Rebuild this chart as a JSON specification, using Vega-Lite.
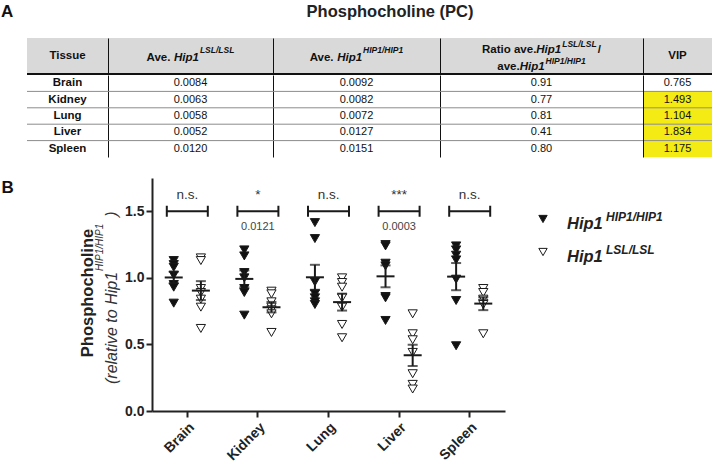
{
  "$schema": "https://vega.github.io/schema/vega-lite/v6.json",
  "padding": 0,
  "background": "white",
  "config": {
    "view": {"stroke": null},
    "font": "Liberation Sans",
    "axis": {"labelFont": "Liberation Sans", "titleFont": "Liberation Sans"},
    "text": {"font": "Liberation Sans"}
  },
  "datasets": {
    "table": [
      {"tissue": "Brain", "lsl": 0.0084, "hip1": 0.0092, "ratio": 0.91, "vip": 0.765},
      {"tissue": "Kidney", "lsl": 0.0063, "hip1": 0.0082, "ratio": 0.77, "vip": 1.493},
      {"tissue": "Lung", "lsl": 0.0058, "hip1": 0.0072, "ratio": 0.81, "vip": 1.104},
      {"tissue": "Liver", "lsl": 0.0052, "hip1": 0.0127, "ratio": 0.41, "vip": 1.834},
      {"tissue": "Spleen", "lsl": 0.0120, "hip1": 0.0151, "ratio": 0.80, "vip": 1.175}
    ],
    "annot": [
      {"tissue": "Brain", "sig": "n.s.", "p": ""},
      {"tissue": "Kidney", "sig": "*", "p": "0.0121"},
      {"tissue": "Lung", "sig": "n.s.", "p": ""},
      {"tissue": "Liver", "sig": "***", "p": "0.0003"},
      {"tissue": "Spleen", "sig": "n.s.", "p": ""}
    ],
    "legend": [
      {"g": "HIP1/HIP1", "name": "Hip1"},
      {"g": "LSL/LSL", "name": "Hip1"}
    ],
    "points": [
      {"tissue": "Brain", "genotype": "HIP1/HIP1", "value": 1.13},
      {"tissue": "Brain", "genotype": "HIP1/HIP1", "value": 1.10},
      {"tissue": "Brain", "genotype": "HIP1/HIP1", "value": 1.08},
      {"tissue": "Brain", "genotype": "HIP1/HIP1", "value": 1.02},
      {"tissue": "Brain", "genotype": "HIP1/HIP1", "value": 0.95},
      {"tissue": "Brain", "genotype": "HIP1/HIP1", "value": 0.93},
      {"tissue": "Brain", "genotype": "HIP1/HIP1", "value": 0.81},
      {"tissue": "Brain", "genotype": "LSL/LSL", "value": 1.15},
      {"tissue": "Brain", "genotype": "LSL/LSL", "value": 1.13},
      {"tissue": "Brain", "genotype": "LSL/LSL", "value": 0.92},
      {"tissue": "Brain", "genotype": "LSL/LSL", "value": 0.89},
      {"tissue": "Brain", "genotype": "LSL/LSL", "value": 0.84},
      {"tissue": "Brain", "genotype": "LSL/LSL", "value": 0.78},
      {"tissue": "Brain", "genotype": "LSL/LSL", "value": 0.62},
      {"tissue": "Kidney", "genotype": "HIP1/HIP1", "value": 1.21},
      {"tissue": "Kidney", "genotype": "HIP1/HIP1", "value": 1.165},
      {"tissue": "Kidney", "genotype": "HIP1/HIP1", "value": 1.04},
      {"tissue": "Kidney", "genotype": "HIP1/HIP1", "value": 1.00},
      {"tissue": "Kidney", "genotype": "HIP1/HIP1", "value": 0.92},
      {"tissue": "Kidney", "genotype": "HIP1/HIP1", "value": 0.89},
      {"tissue": "Kidney", "genotype": "HIP1/HIP1", "value": 0.72},
      {"tissue": "Kidney", "genotype": "LSL/LSL", "value": 0.90},
      {"tissue": "Kidney", "genotype": "LSL/LSL", "value": 0.88},
      {"tissue": "Kidney", "genotype": "LSL/LSL", "value": 0.82},
      {"tissue": "Kidney", "genotype": "LSL/LSL", "value": 0.78},
      {"tissue": "Kidney", "genotype": "LSL/LSL", "value": 0.76},
      {"tissue": "Kidney", "genotype": "LSL/LSL", "value": 0.73},
      {"tissue": "Kidney", "genotype": "LSL/LSL", "value": 0.59},
      {"tissue": "Lung", "genotype": "HIP1/HIP1", "value": 1.415},
      {"tissue": "Lung", "genotype": "HIP1/HIP1", "value": 1.295},
      {"tissue": "Lung", "genotype": "HIP1/HIP1", "value": 0.97},
      {"tissue": "Lung", "genotype": "HIP1/HIP1", "value": 0.88},
      {"tissue": "Lung", "genotype": "HIP1/HIP1", "value": 0.85},
      {"tissue": "Lung", "genotype": "HIP1/HIP1", "value": 0.82},
      {"tissue": "Lung", "genotype": "HIP1/HIP1", "value": 0.80},
      {"tissue": "Lung", "genotype": "LSL/LSL", "value": 1.00},
      {"tissue": "Lung", "genotype": "LSL/LSL", "value": 0.965},
      {"tissue": "Lung", "genotype": "LSL/LSL", "value": 0.93},
      {"tissue": "Lung", "genotype": "LSL/LSL", "value": 0.85},
      {"tissue": "Lung", "genotype": "LSL/LSL", "value": 0.78},
      {"tissue": "Lung", "genotype": "LSL/LSL", "value": 0.65},
      {"tissue": "Lung", "genotype": "LSL/LSL", "value": 0.55},
      {"tissue": "Liver", "genotype": "HIP1/HIP1", "value": 1.25},
      {"tissue": "Liver", "genotype": "HIP1/HIP1", "value": 1.24},
      {"tissue": "Liver", "genotype": "HIP1/HIP1", "value": 1.11},
      {"tissue": "Liver", "genotype": "HIP1/HIP1", "value": 1.09},
      {"tissue": "Liver", "genotype": "HIP1/HIP1", "value": 0.86},
      {"tissue": "Liver", "genotype": "HIP1/HIP1", "value": 0.85},
      {"tissue": "Liver", "genotype": "HIP1/HIP1", "value": 0.68},
      {"tissue": "Liver", "genotype": "LSL/LSL", "value": 0.73},
      {"tissue": "Liver", "genotype": "LSL/LSL", "value": 0.58},
      {"tissue": "Liver", "genotype": "LSL/LSL", "value": 0.535},
      {"tissue": "Liver", "genotype": "LSL/LSL", "value": 0.44},
      {"tissue": "Liver", "genotype": "LSL/LSL", "value": 0.28},
      {"tissue": "Liver", "genotype": "LSL/LSL", "value": 0.20},
      {"tissue": "Liver", "genotype": "LSL/LSL", "value": 0.165},
      {"tissue": "Spleen", "genotype": "HIP1/HIP1", "value": 1.24},
      {"tissue": "Spleen", "genotype": "HIP1/HIP1", "value": 1.21},
      {"tissue": "Spleen", "genotype": "HIP1/HIP1", "value": 1.17},
      {"tissue": "Spleen", "genotype": "HIP1/HIP1", "value": 1.135},
      {"tissue": "Spleen", "genotype": "HIP1/HIP1", "value": 0.99},
      {"tissue": "Spleen", "genotype": "HIP1/HIP1", "value": 0.83},
      {"tissue": "Spleen", "genotype": "HIP1/HIP1", "value": 0.49},
      {"tissue": "Spleen", "genotype": "LSL/LSL", "value": 0.92},
      {"tissue": "Spleen", "genotype": "LSL/LSL", "value": 0.89},
      {"tissue": "Spleen", "genotype": "LSL/LSL", "value": 0.84},
      {"tissue": "Spleen", "genotype": "LSL/LSL", "value": 0.81},
      {"tissue": "Spleen", "genotype": "LSL/LSL", "value": 0.80},
      {"tissue": "Spleen", "genotype": "LSL/LSL", "value": 0.58}
    ]
  },
  "spacing": 21,
  "vconcat": [
    {
      "spacing": 0,
      "vconcat": [
        {
          "width": 712, "height": 38,
          "view": {"fill": "white", "stroke": null},
          "data": {"values": [{"a": "A", "t": "Phosphocholine (PC)"}]},
          "layer": [
            {"mark": {"type": "text", "align": "left", "baseline": "middle", "dx": -355, "dy": -7, "fontSize": 17, "fontWeight": "bold", "color": "#111"}, "encoding": {"text": {"field": "a"}}},
            {"mark": {"type": "text", "align": "center", "baseline": "middle", "dx": 34, "dy": -7, "fontSize": 16.5, "fontWeight": "bold", "color": "#222"}, "encoding": {"text": {"field": "t"}}}
          ]
        },
        {
          "bounds": "flush",
          "spacing": 0,
          "hconcat": [
            {"width": 27, "height": 36, "data": {"values": [{}]}, "mark": "text", "encoding": {"text": {"value": ""}}},
            {
              "width": 81, "height": 36, "view": {"fill": "#d9d9d9", "stroke": null},
              "data": {"values": [{"row": "h"}]},
              "encoding": {"y": {"field": "row", "type": "nominal", "scale": {"type": "band", "paddingInner": 0, "paddingOuter": 0}, "axis": null}},
              "layer": [
                {"mark": {"type": "rule", "color": "#111", "strokeWidth": 2}, "encoding": {"y": {"field": "row", "type": "nominal", "bandPosition": 1, "axis": null}}},
                {"mark": {"type": "text", "fontSize": 11.5, "fontWeight": "bold", "baseline": "middle", "color": "#111"}, "encoding": {"text": {"value": "Tissue"}}}
              ]
            },
            {
              "width": 165, "height": 36, "view": {"fill": "#d9d9d9", "stroke": null},
              "data": {"values": [{"row": "h"}]},
              "encoding": {"y": {"field": "row", "type": "nominal", "scale": {"type": "band", "paddingInner": 0, "paddingOuter": 0}, "axis": {"title": null, "labels": false, "ticks": false, "domain": true, "domainColor": "#111", "domainWidth": 1, "grid": false}}},
              "layer": [
                {"mark": {"type": "rule", "color": "#111", "strokeWidth": 2}, "encoding": {"y": {"field": "row", "type": "nominal", "bandPosition": 1, "axis": {"title": null, "labels": false, "ticks": false, "domain": true, "domainColor": "#111", "domainWidth": 1, "grid": false}}}},
                {"mark": {"type": "text", "fontSize": 11.5, "fontWeight": "bold", "align": "left", "baseline": "alphabetic", "dx": -44, "dy": 4.5, "color": "#111"}, "encoding": {"text": {"value": "Ave."}}},
                {"mark": {"type": "text", "fontSize": 11.5, "fontWeight": "bold", "fontStyle": "italic", "align": "left", "baseline": "alphabetic", "dx": -16.5, "dy": 4.5, "color": "#111"}, "encoding": {"text": {"value": "Hip1"}}},
                {"mark": {"type": "text", "fontSize": 8.5, "fontWeight": "bold", "fontStyle": "italic", "align": "left", "baseline": "alphabetic", "dx": 9.4, "dy": -3, "color": "#111"}, "encoding": {"text": {"value": "LSL/LSL"}}}
              ]
            },
            {
              "width": 167, "height": 36, "view": {"fill": "#d9d9d9", "stroke": null},
              "data": {"values": [{"row": "h"}]},
              "encoding": {"y": {"field": "row", "type": "nominal", "scale": {"type": "band", "paddingInner": 0, "paddingOuter": 0}, "axis": {"title": null, "labels": false, "ticks": false, "domain": true, "domainColor": "#111", "domainWidth": 1, "grid": false}}},
              "layer": [
                {"mark": {"type": "rule", "color": "#111", "strokeWidth": 2}, "encoding": {"y": {"field": "row", "type": "nominal", "bandPosition": 1, "axis": {"title": null, "labels": false, "ticks": false, "domain": true, "domainColor": "#111", "domainWidth": 1, "grid": false}}}},
                {"mark": {"type": "text", "fontSize": 11.5, "fontWeight": "bold", "align": "left", "baseline": "alphabetic", "dx": -46.8, "dy": 4.5, "color": "#111"}, "encoding": {"text": {"value": "Ave."}}},
                {"mark": {"type": "text", "fontSize": 11.5, "fontWeight": "bold", "fontStyle": "italic", "align": "left", "baseline": "alphabetic", "dx": -19.3, "dy": 4.5, "color": "#111"}, "encoding": {"text": {"value": "Hip1"}}},
                {"mark": {"type": "text", "fontSize": 8.5, "fontWeight": "bold", "fontStyle": "italic", "align": "left", "baseline": "alphabetic", "dx": 6.6, "dy": -3, "color": "#111"}, "encoding": {"text": {"value": "HIP1/HIP1"}}}
              ]
            },
            {
              "width": 203, "height": 36, "view": {"fill": "#d9d9d9", "stroke": null},
              "data": {"values": [{"row": "h"}]},
              "encoding": {"y": {"field": "row", "type": "nominal", "scale": {"type": "band", "paddingInner": 0, "paddingOuter": 0}, "axis": {"title": null, "labels": false, "ticks": false, "domain": true, "domainColor": "#111", "domainWidth": 1, "grid": false}}},
              "layer": [
                {"mark": {"type": "rule", "color": "#111", "strokeWidth": 2}, "encoding": {"y": {"field": "row", "type": "nominal", "bandPosition": 1, "axis": {"title": null, "labels": false, "ticks": false, "domain": true, "domainColor": "#111", "domainWidth": 1, "grid": false}}}},
                {"mark": {"type": "text", "fontSize": 11.5, "fontWeight": "bold", "align": "left", "baseline": "alphabetic", "dx": -59.5, "dy": -3, "color": "#111"}, "encoding": {"text": {"value": "Ratio ave."}}},
                {"mark": {"type": "text", "fontSize": 11.5, "fontWeight": "bold", "fontStyle": "italic", "align": "left", "baseline": "alphabetic", "dx": -5.2, "dy": -3, "color": "#111"}, "encoding": {"text": {"value": "Hip1"}}},
                {"mark": {"type": "text", "fontSize": 8.5, "fontWeight": "bold", "fontStyle": "italic", "align": "left", "baseline": "alphabetic", "dx": 20.7, "dy": -9, "color": "#111"}, "encoding": {"text": {"value": "LSL/LSL"}}},
                {"mark": {"type": "text", "fontSize": 11.5, "fontWeight": "bold", "align": "left", "baseline": "alphabetic", "dx": 56.2, "dy": -3, "color": "#111"}, "encoding": {"text": {"value": "/"}}},
                {"mark": {"type": "text", "fontSize": 11.5, "fontWeight": "bold", "align": "left", "baseline": "alphabetic", "dx": -44.25, "dy": 14, "color": "#111"}, "encoding": {"text": {"value": "ave."}}},
                {"mark": {"type": "text", "fontSize": 11.5, "fontWeight": "bold", "fontStyle": "italic", "align": "left", "baseline": "alphabetic", "dx": -21.85, "dy": 14, "color": "#111"}, "encoding": {"text": {"value": "Hip1"}}},
                {"mark": {"type": "text", "fontSize": 8.5, "fontWeight": "bold", "fontStyle": "italic", "align": "left", "baseline": "alphabetic", "dx": 4.05, "dy": 8, "color": "#111"}, "encoding": {"text": {"value": "HIP1/HIP1"}}}
              ]
            },
            {
              "width": 69, "height": 36, "view": {"fill": "#d9d9d9", "stroke": null},
              "data": {"values": [{"row": "h"}]},
              "encoding": {"y": {"field": "row", "type": "nominal", "scale": {"type": "band", "paddingInner": 0, "paddingOuter": 0}, "axis": {"title": null, "labels": false, "ticks": false, "domain": true, "domainColor": "#111", "domainWidth": 1, "grid": false}}},
              "layer": [
                {"mark": {"type": "rule", "color": "#111", "strokeWidth": 2}, "encoding": {"y": {"field": "row", "type": "nominal", "bandPosition": 1, "axis": {"title": null, "labels": false, "ticks": false, "domain": true, "domainColor": "#111", "domainWidth": 1, "grid": false}}}},
                {"mark": {"type": "text", "fontSize": 11.5, "fontWeight": "bold", "baseline": "middle", "color": "#111"}, "encoding": {"text": {"value": "VIP"}}}
              ]
            }
          ]
        },
        {
          "bounds": "flush",
          "spacing": 0,
          "hconcat": [
            {"width": 27, "height": 82, "data": {"values": [{}]}, "mark": "text", "encoding": {"text": {"value": ""}}},
            {
              "width": 81, "height": 82,
              "data": {"name": "table"},
              "encoding": {"y": {"field": "tissue", "type": "nominal", "scale": {"type": "band", "domain": ["Brain", "Kidney", "Lung", "Liver", "Spleen"], "paddingInner": 0, "paddingOuter": 0}, "axis": null}},
              "layer": [
                {"transform": [{"filter": "datum.tissue !== 'Spleen'"}], "mark": {"type": "rule", "color": "#8c8c8c", "strokeWidth": 1}, "encoding": {"y": {"field": "tissue", "type": "nominal", "bandPosition": 1, "axis": null}}},
                {"mark": {"type": "text", "fontSize": 11.5, "fontWeight": "bold", "baseline": "middle", "color": "#111"}, "encoding": {"text": {"field": "tissue"}}}
              ]
            },
            {
              "width": 165, "height": 82,
              "data": {"name": "table"},
              "encoding": {"y": {"field": "tissue", "type": "nominal", "scale": {"type": "band", "domain": ["Brain", "Kidney", "Lung", "Liver", "Spleen"], "paddingInner": 0, "paddingOuter": 0}, "axis": {"title": null, "labels": false, "ticks": false, "domain": true, "domainColor": "#111", "domainWidth": 1, "grid": false}}},
              "layer": [
                {"transform": [{"filter": "datum.tissue !== 'Spleen'"}], "mark": {"type": "rule", "color": "#8c8c8c", "strokeWidth": 1}, "encoding": {"y": {"field": "tissue", "type": "nominal", "bandPosition": 1, "axis": {"title": null, "labels": false, "ticks": false, "domain": true, "domainColor": "#111", "domainWidth": 1, "grid": false}}}},
                {"mark": {"type": "text", "fontSize": 11, "baseline": "middle", "color": "#111"}, "encoding": {"text": {"field": "lsl", "format": ".4f"}}}
              ]
            },
            {
              "width": 167, "height": 82,
              "data": {"name": "table"},
              "encoding": {"y": {"field": "tissue", "type": "nominal", "scale": {"type": "band", "domain": ["Brain", "Kidney", "Lung", "Liver", "Spleen"], "paddingInner": 0, "paddingOuter": 0}, "axis": {"title": null, "labels": false, "ticks": false, "domain": true, "domainColor": "#111", "domainWidth": 1, "grid": false}}},
              "layer": [
                {"transform": [{"filter": "datum.tissue !== 'Spleen'"}], "mark": {"type": "rule", "color": "#8c8c8c", "strokeWidth": 1}, "encoding": {"y": {"field": "tissue", "type": "nominal", "bandPosition": 1, "axis": {"title": null, "labels": false, "ticks": false, "domain": true, "domainColor": "#111", "domainWidth": 1, "grid": false}}}},
                {"mark": {"type": "text", "fontSize": 11, "baseline": "middle", "color": "#111"}, "encoding": {"text": {"field": "hip1", "format": ".4f"}}}
              ]
            },
            {
              "width": 203, "height": 82,
              "data": {"name": "table"},
              "encoding": {"y": {"field": "tissue", "type": "nominal", "scale": {"type": "band", "domain": ["Brain", "Kidney", "Lung", "Liver", "Spleen"], "paddingInner": 0, "paddingOuter": 0}, "axis": {"title": null, "labels": false, "ticks": false, "domain": true, "domainColor": "#111", "domainWidth": 1, "grid": false}}},
              "layer": [
                {"transform": [{"filter": "datum.tissue !== 'Spleen'"}], "mark": {"type": "rule", "color": "#8c8c8c", "strokeWidth": 1}, "encoding": {"y": {"field": "tissue", "type": "nominal", "bandPosition": 1, "axis": {"title": null, "labels": false, "ticks": false, "domain": true, "domainColor": "#111", "domainWidth": 1, "grid": false}}}},
                {"mark": {"type": "text", "fontSize": 11, "baseline": "middle", "color": "#111"}, "encoding": {"text": {"field": "ratio", "format": ".2f"}}}
              ]
            },
            {
              "width": 69, "height": 82,
              "data": {"name": "table"},
              "encoding": {"y": {"field": "tissue", "type": "nominal", "scale": {"type": "band", "domain": ["Brain", "Kidney", "Lung", "Liver", "Spleen"], "paddingInner": 0, "paddingOuter": 0}, "axis": {"title": null, "labels": false, "ticks": false, "domain": true, "domainColor": "#111", "domainWidth": 1, "grid": false}}},
              "layer": [
                {"mark": {"type": "rect"}, "encoding": {"color": {"condition": {"test": "datum.vip > 1", "value": "#f4ea14"}, "value": "white"}}},
                {"transform": [{"filter": "datum.tissue !== 'Spleen'"}], "mark": {"type": "rule", "color": "#8c8c8c", "strokeWidth": 1}, "encoding": {"y": {"field": "tissue", "type": "nominal", "bandPosition": 1, "axis": {"title": null, "labels": false, "ticks": false, "domain": true, "domainColor": "#111", "domainWidth": 1, "grid": false}}}},
                {"mark": {"type": "text", "fontSize": 11, "baseline": "middle", "color": "#111"}, "encoding": {"text": {"field": "vip", "format": ".3f"}}}
              ]
            }
          ]
        }
      ]
    },
    {
      "bounds": "flush",
      "spacing": 0,
      "hconcat": [
        {
          "width": 152, "height": 233,
          "data": {"values": [{"b": "B", "sub": "(relative to Hip1", "sup": "HIP1/HIP1", "close": ")"}]},
          "layer": [
            {"mark": {"type": "text", "align": "left", "baseline": "middle", "dx": -74.5, "dy": -107, "fontSize": 17, "fontWeight": "bold", "color": "#111"}, "encoding": {"text": {"field": "b"}}},
            {"mark": {"type": "text", "align": "left", "baseline": "middle", "angle": 270, "dx": -89.5, "dy": 36, "fontSize": 16, "fontStyle": "italic", "color": "#333"}, "encoding": {"text": {"field": "sub"}}},
            {"mark": {"type": "text", "align": "left", "baseline": "middle", "angle": 270, "dx": 23.5, "dy": 24, "fontSize": 10, "fontStyle": "italic", "color": "#333"}, "encoding": {"text": {"field": "sup"}}},
            {"mark": {"type": "text", "align": "center", "baseline": "middle", "angle": 270, "dx": 80.5, "dy": 36, "fontSize": 16, "fontStyle": "italic", "color": "#333"}, "encoding": {"text": {"field": "close"}}}
          ]
        },
        {
          "width": 353, "height": 233,
          "layer": [
            {
              "data": {"name": "points"},
              "mark": {"type": "point", "shape": "triangle-down", "filled": true, "size": 85, "stroke": "#1a1a1a", "strokeWidth": 1, "opacity": 1},
              "encoding": {
                "x": {"field": "tissue", "type": "nominal", "scale": {"domain": ["Brain", "Kidney", "Lung", "Liver", "Spleen"], "paddingInner": 0, "paddingOuter": 0}, "axis": {"title": null, "labelAngle": -45, "labelFontSize": 14, "labelFontWeight": "bold", "labelColor": "#222", "tickSize": 6, "tickWidth": 2, "tickColor": "#222", "domainColor": "#222", "domainWidth": 2, "labelPadding": 3}},
                "xOffset": {"field": "genotype", "type": "nominal", "scale": {"domain": ["HIP1/HIP1", "LSL/LSL"], "paddingInner": 0, "paddingOuter": 0.3}},
                "y": {"field": "value", "type": "quantitative", "title": "Phosphocholine", "scale": {"domain": [0, 1.75], "nice": false, "zero": true}, "axis": {"title": "Phosphocholine", "values": [0, 0.5, 1, 1.5], "format": ".1f", "labelFontSize": 14, "labelFontWeight": "bold", "labelColor": "#222", "labelPadding": 2, "tickSize": 6, "tickWidth": 2, "tickColor": "#222", "domainColor": "#222", "domainWidth": 2, "grid": false, "titleFontSize": 16.5, "titleFontWeight": "bold", "titleColor": "#222", "titleX": -65, "titleY": 114.5, "titleBaseline": "middle", "titleAlign": "center", "titleAngle": 270}},
                "fill": {"field": "genotype", "type": "nominal", "scale": {"domain": ["HIP1/HIP1", "LSL/LSL"], "range": ["#111111", "#ffffff"]}, "legend": null}
              }
            },
            {
              "data": {"name": "points"},
              "mark": {"type": "tick", "size": 18, "thickness": 2, "color": "#1a1a1a", "opacity": 1},
              "encoding": {
                "x": {"field": "tissue", "type": "nominal"},
                "xOffset": {"field": "genotype", "type": "nominal"},
                "y": {"aggregate": "mean", "field": "value", "type": "quantitative", "title": "Phosphocholine"}
              }
            },
            {
              "data": {"name": "points"},
              "mark": {"type": "errorbar", "extent": "stderr", "thickness": 2, "color": "#1a1a1a", "ticks": {"size": 10, "thickness": 2, "color": "#1a1a1a"}},
              "encoding": {
                "x": {"field": "tissue", "type": "nominal"},
                "xOffset": {"field": "genotype", "type": "nominal"},
                "y": {"field": "value", "type": "quantitative", "title": "Phosphocholine"}
              }
            },
            {
              "data": {"name": "annot"},
              "mark": {"type": "point", "shape": "M-1,-0.27L-1,0.27M-1,0L1,0M1,-0.27L1,0.27", "filled": false, "size": 1681, "stroke": "#1a1a1a", "strokeWidth": 2, "opacity": 1},
              "encoding": {"x": {"field": "tissue", "type": "nominal"}, "y": {"datum": 1.5}}
            },
            {
              "data": {"name": "annot"},
              "mark": {"type": "text", "fontSize": 13.5, "baseline": "alphabetic", "color": "#333"},
              "encoding": {"x": {"field": "tissue", "type": "nominal"}, "y": {"datum": 1.59}, "text": {"field": "sig"}}
            },
            {
              "data": {"name": "annot"},
              "transform": [{"filter": "datum.p !== ''"}],
              "mark": {"type": "text", "fontSize": 11, "baseline": "middle", "color": "#444"},
              "encoding": {"x": {"field": "tissue", "type": "nominal"}, "y": {"datum": 1.385}, "text": {"field": "p"}}
            }
          ]
        },
        {
          "width": 207, "height": 115,
          "data": {"name": "legend"},
          "encoding": {"y": {"field": "g", "type": "nominal", "scale": {"type": "band", "domain": ["HIP1/HIP1", "LSL/LSL"], "paddingInner": 0, "paddingOuter": 0.742}, "axis": null}},
          "layer": [
            {"mark": {"type": "point", "shape": "triangle-down", "filled": true, "size": 70, "stroke": "#1a1a1a", "strokeWidth": 1, "opacity": 1, "xOffset": -65.5}, "encoding": {"fill": {"field": "g", "type": "nominal", "scale": {"domain": ["HIP1/HIP1", "LSL/LSL"], "range": ["#111111", "#ffffff"]}, "legend": null}}},
            {"mark": {"type": "text", "align": "left", "baseline": "alphabetic", "dx": -41.5, "dy": 10, "fontSize": 16.5, "fontWeight": "bold", "fontStyle": "italic", "color": "#222"}, "encoding": {"text": {"field": "name"}}},
            {"mark": {"type": "text", "align": "left", "baseline": "alphabetic", "dx": -2.5, "dy": 2, "fontSize": 12, "fontWeight": "bold", "fontStyle": "italic", "color": "#222"}, "encoding": {"text": {"field": "g"}}}
          ]
        }
      ]
    }
  ]
}
